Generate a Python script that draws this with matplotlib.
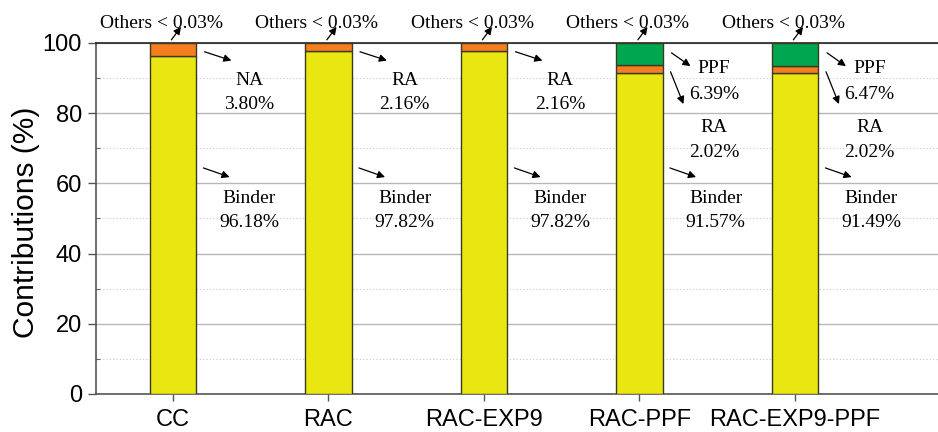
import matplotlib
matplotlib.use("Agg")
import matplotlib.pyplot as plt
import numpy as np
from matplotlib.ticker import MultipleLocator

# data (contribution, %)
categories = ["CC", "RAC", "RAC-EXP9", "RAC-PPF", "RAC-EXP9-PPF"]
binder = [96.18, 97.82, 97.82, 91.57, 91.49]
agg = [3.80, 2.16, 2.16, 2.02, 2.02]          # NA for CC, RA otherwise
agg_name = ["NA", "RA", "RA", "RA", "RA"]
ppf = [0.0, 0.0, 0.0, 6.39, 6.47]

YELLOW = "#e9e612"
ORANGE = "#f47e20"
GREEN = "#00a650"
EDGE = "#3a3a20"

serif = "Liberation Serif"
sans = "Liberation Sans"

fig = plt.figure(figsize=(9.38, 4.32), dpi=100)
ax = fig.add_axes([0.1023, 0.088, 0.8977, 0.8125])

x = np.arange(len(categories))
w = 0.30
b = np.array(binder); a = np.array(agg); p = np.array(ppf)
ax.bar(x, b, w, color=YELLOW, edgecolor=EDGE, lw=1.0, zorder=3)
ax.bar(x, a, w, bottom=b, color=ORANGE, edgecolor=EDGE, lw=1.0, zorder=3)
has_ppf = p > 0
ax.bar(x[has_ppf], p[has_ppf], w, bottom=(b + a)[has_ppf], color=GREEN,
       edgecolor=EDGE, lw=1.0, zorder=3)

ax.set_xlim(-0.495, 4.92)
ax.set_ylim(0, 100)
ax.yaxis.set_major_locator(MultipleLocator(20))
ax.yaxis.set_minor_locator(MultipleLocator(10))
ax.grid(axis="y", which="major", color="#b8b8b8", lw=1.0, zorder=0)
ax.grid(axis="y", which="minor", color="#c8c8c8", lw=0.8, ls=(0, (1, 2)), zorder=0)
ax.tick_params(axis="y", which="minor", direction="in", length=3, width=0.8,
               color="#666666")
ax.tick_params(axis="y", which="major", length=6, width=1, pad=4, labelsize=17,
               color="#555555")
ax.tick_params(axis="x", length=5, width=1, pad=6, labelsize=17, color="#555555")
ax.set_xticks(x)
ax.set_xticklabels(categories, fontfamily=sans)
for lab in ax.get_yticklabels():
    lab.set_fontfamily(sans)
ax.set_ylabel("Contributions (%)", fontsize=21.5, fontfamily=sans)
ax.yaxis.set_label_coords(-0.066, 0.49)
ax.spines["right"].set_visible(False)
for s in ("left", "bottom"):
    ax.spines[s].set_color("#555555")
    ax.spines[s].set_linewidth(1.2)
ax.spines["top"].set_color("#222222")
ax.spines["top"].set_linewidth(1.2)
ax.set_axisbelow(True)

arrow = dict(arrowstyle="-|>", color="black", lw=0.9, mutation_scale=11,
             shrinkA=0, shrinkB=0)
fs = 14
txt = dict(ha="center", va="baseline", fontsize=fs, fontfamily=serif)


def label(xc, y1, y2, s1, s2):
    ax.text(xc, y1, s1, **txt)
    ax.text(xc, y2, s2, **txt)


for i in range(len(categories)):
    # others label above each bar
    ax.text(i - 0.075, 104.4, "Others < 0.03%", clip_on=False, **txt)
    ax.annotate("", xy=(i + 0.052, 104.6), xytext=(i - 0.01, 100.9),
                arrowprops=arrow, annotation_clip=False)
    tx = i + 0.49
    if ppf[i] > 0:
        ax.annotate("", xy=(i + 0.328, 93.4), xytext=(i + 0.206, 97.2),
                    arrowprops=arrow)
        label(tx - 0.01, 91.5, 84.0, "PPF", f"{ppf[i]:.2f}%")
        ax.annotate("", xy=(i + 0.283, 82.6), xytext=(i + 0.2, 91.8),
                    arrowprops=arrow)
        label(tx - 0.01, 74.6, 67.5, agg_name[i], f"{agg[i]:.2f}%")
    else:
        ax.annotate("", xy=(i + 0.376, 95.0), xytext=(i + 0.203, 97.5),
                    arrowprops=arrow)
        label(tx, 88.0, 81.2, agg_name[i], f"{agg[i]:.2f}%")
    ax.annotate("", xy=(i + 0.364, 61.8), xytext=(i + 0.196, 64.4),
                arrowprops=arrow)
    label(tx, 54.4, 47.6, "Binder", f"{binder[i]:.2f}%")

fig.savefig("out.png", dpi=100)
